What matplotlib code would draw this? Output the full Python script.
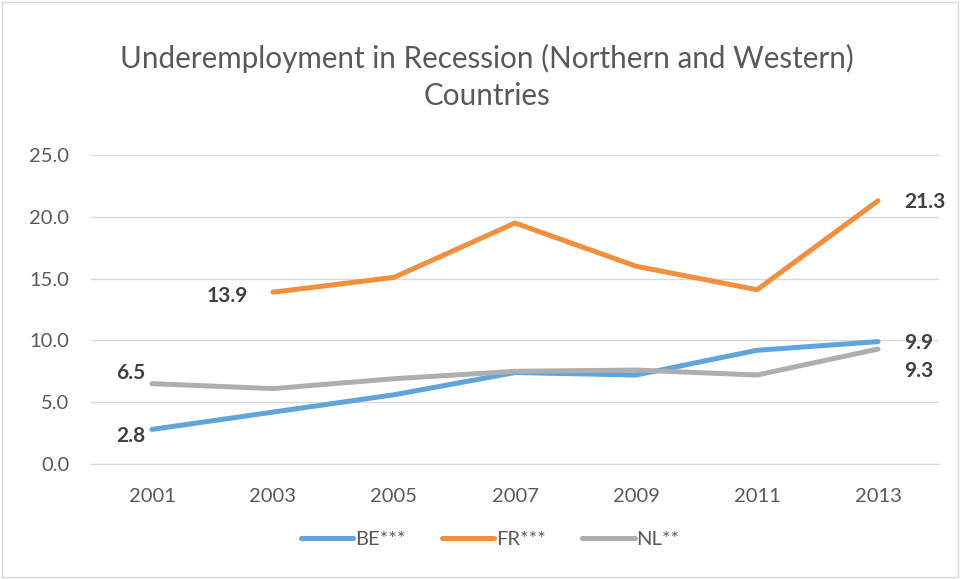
import matplotlib.pyplot as plt
import matplotlib.patches as patches
import numpy as np

years = ["2001", "2003", "2005", "2007", "2009", "2011", "2013"]
be = [2.8, 4.2, 5.6, 7.4, 7.2, 9.2, 9.9]
fr = [np.nan, 13.9, 15.1, 19.5, 16.0, 14.1, 21.3]
nl = [6.5, 6.1, 6.9, 7.5, 7.6, 7.2, 9.3]
yticks = [0, 5, 10, 15, 20, 25]

plt.rcParams['font.family'] = ['Lato', 'DejaVu Sans']
text_gray = '#595959'
label_gray = '#404040'

fig = plt.figure(figsize=(9.61, 5.79), dpi=100)
ax = fig.add_axes([0.0952, 0.1986, 0.8814, 0.5337])

x = np.arange(len(years))
ax.plot(x, be, color='#5FA4DC', lw=3.6, label='BE***', solid_capstyle='round')
ax.plot(x, fr, color='#F28E3C', lw=3.6, label='FR***', solid_capstyle='round')
ax.plot(x, nl, color='#AEAEAE', lw=3.6, label='NL**', solid_capstyle='round')

ax.set_xlim(-0.5, len(years) - 0.5)
ax.set_ylim(0, 25)
ax.set_xticks(x)
ax.set_xticklabels(years)
ax.set_yticks(yticks)
ax.set_yticklabels([f"{v:.1f}" for v in yticks])
ax.tick_params(axis='both', length=0, labelsize=14.5, labelcolor=text_gray)
ax.tick_params(axis='x', pad=17)
ax.tick_params(axis='y', pad=16)
ax.grid(axis='y', color='#D9D9D9', lw=1)
ax.set_axisbelow(True)
for s in ['top', 'right', 'left']:
    ax.spines[s].set_visible(False)
ax.spines['bottom'].set_color('#D9D9D9')

# end-point value labels
lab = dict(fontsize=15, fontweight='bold', color=label_gray, textcoords='offset points')
ax.annotate(f"{be[0]:.1f}", (0, be[0]), xytext=(-5, -5), ha='right', va='center', **lab)
ax.annotate(f"{nl[0]:.1f}", (0, nl[0]), xytext=(-5, 8), ha='right', va='center', **lab)
ax.annotate(f"{fr[1]:.1f}", (1, fr[1]), xytext=(-18, -3), ha='right', va='center', **lab)
ax.annotate(f"{fr[-1]:.1f}", (6, fr[-1]), xytext=(19, -1), ha='left', va='center', **lab)
ax.annotate(f"{be[-1]:.1f}", (6, be[-1]), xytext=(19, -1), ha='left', va='center', **lab)
ax.annotate(f"{nl[-1]:.1f}", (6, nl[-1]), xytext=(19, -16), ha='left', va='center', **lab)

fig.text(0.507, 0.867, "Underemployment in Recession (Northern and Western)\nCountries",
         ha='center', va='center', fontsize=21.3, color=text_gray, linespacing=1.4)

fig.legend(loc='center', bbox_to_anchor=(0.51, 0.068), ncol=3, frameon=False,
           fontsize=14.5, labelcolor=text_gray, handlelength=2.6, handletextpad=0.1,
           columnspacing=1.8)

fig.add_artist(patches.Rectangle((0.002, 0.003), 0.995, 0.994, transform=fig.transFigure,
                                 fill=False, edgecolor='#D9D9D9', lw=1))

fig.savefig("out.png", dpi=100)
